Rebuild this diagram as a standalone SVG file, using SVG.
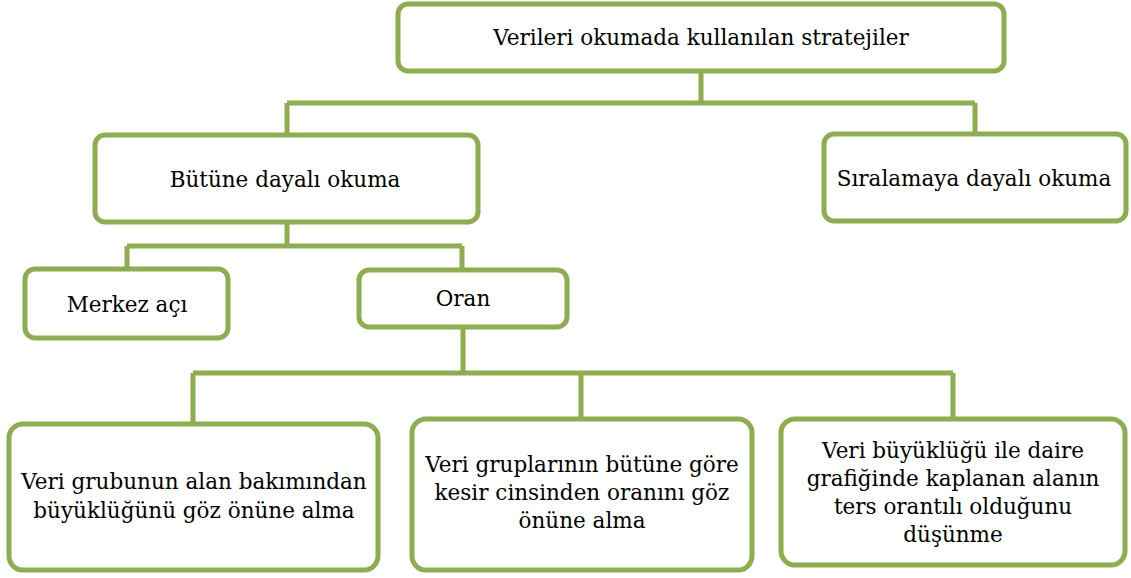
<svg xmlns="http://www.w3.org/2000/svg" width="1131" height="578" viewBox="0 0 1131 578">
<style>
.box{fill:#fff;stroke:#8EAC50;stroke-width:5}
.conn{fill:none;stroke:#8EAC50;stroke-width:5}
text{font-family:'DejaVu Serif','Liberation Serif',serif;font-size:21.5px;fill:#000;text-anchor:middle}
</style>
<rect width="1131" height="578" fill="#fff"/>
<g id="connectors">
<path class="conn" d="M701 71V103M287 103H975M287 103V135M975 103V134"/>
<path class="conn" d="M287 222V246M127 246H462M127 246V269M462 246V270"/>
<path class="conn" d="M463 327V373M193 373H953M193 373V424M581 373V419M953 373V419"/>
</g>
<g id="n-top"><rect class="box" x="398" y="4" width="606" height="67" rx="10"/><text x="701" y="45">Verileri okumada kullanılan stratejiler</text></g>
<g id="n-butune"><rect class="box" x="95" y="135" width="383" height="87" rx="10"/><text x="285" y="187">Bütüne dayalı okuma</text></g>
<g id="n-siralama"><rect class="box" x="824" y="134" width="302" height="87" rx="10"/><text x="974" y="186">Sıralamaya dayalı okuma</text></g>
<g id="n-merkez"><rect class="box" x="25" y="269" width="203" height="69" rx="10"/><text x="127" y="312">Merkez açı</text></g>
<g id="n-oran"><rect class="box" x="359" y="270" width="208" height="57" rx="10"/><text x="463" y="306">Oran</text></g>
<g id="n-b1"><rect class="box" x="9" y="424" width="369" height="146" rx="14"/><text x="194" y="489">Veri grubunun alan bakımından</text><text x="194" y="518">büyüklüğünü göz önüne alma</text></g>
<g id="n-b2"><rect class="box" x="412" y="419" width="340" height="151" rx="14"/><text x="582" y="472">Veri gruplarının bütüne göre</text><text x="582" y="500">kesir cinsinden oranını göz</text><text x="582" y="528">önüne alma</text></g>
<g id="n-b3"><rect class="box" x="781" y="419" width="344" height="146" rx="14"/><text x="953" y="458">Veri büyüklüğü ile daire</text><text x="953" y="486">grafiğinde kaplanan alanın</text><text x="953" y="514">ters orantılı olduğunu</text><text x="953" y="542">düşünme</text></g>
</svg>
